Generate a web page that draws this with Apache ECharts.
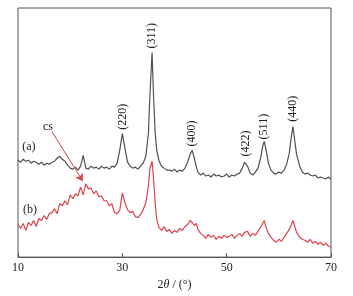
<!DOCTYPE html>
<html>
<head>
<meta charset="utf-8">
<script src="https://cdn.jsdelivr.net/npm/echarts@6/dist/echarts.min.js"></script>
<style>
  html, body { margin: 0; padding: 0; background: #fff; }
  #main { width: 353px; height: 296px; }
</style>
</head>
<body>
<div id="main"></div>
<script>
// 2theta angles (deg)
var angles = [
  10, 10.5, 11, 11.5, 12, 12.5, 13, 13.5, 14, 14.5,
  15, 15.5, 16, 16.5, 17, 17.5, 18, 18.5, 19, 19.5,
  20, 20.5, 21, 21.5, 22, 22.5, 23, 23.5, 24, 24.5,
  25, 25.5, 26, 26.5, 27, 27.5, 28, 28.5, 29, 29.5,
  30, 30.5, 31, 31.5, 32, 32.5, 33, 33.5, 34, 34.5,
  35, 35.3, 35.7, 36, 36.3, 36.6, 37, 37.5, 38, 38.5,
  39, 39.5, 40, 40.5, 41, 41.5, 42, 42.5, 43, 43.4,
  43.8, 44.2, 44.5, 45, 45.5, 46, 46.5, 47, 47.5, 48,
  48.5, 49, 49.5, 50, 50.5, 51, 51.5, 52, 52.5, 53,
  53.4, 53.7, 54, 54.5, 55, 55.5, 56, 56.5, 56.9, 57.2,
  57.5, 58, 58.5, 59, 59.5, 60, 60.5, 61, 61.5, 62,
  62.4, 62.7, 63, 63.4, 64, 64.5, 65, 65.5, 66, 66.5,
  67, 67.5, 68, 68.5, 69, 69.5, 70
];
// (a) intensity, offset curve
var curveA = [
  98, 96, 99, 97, 98, 95, 97, 96, 94, 96,
  93, 95, 94, 96, 97, 100, 102, 99, 97, 93,
  90, 89, 91, 88, 92, 103, 90, 89, 92, 90,
  91, 89, 92, 90, 91, 89, 92, 91, 95, 108,
  125, 110, 96, 92, 90, 91, 89, 92, 95, 102,
  125, 165, 207, 160, 125, 108, 98, 92, 90, 88,
  88, 87, 89, 86, 88, 87, 90, 96, 104, 108,
  100, 91, 86, 83, 85, 82, 83, 81, 84, 82,
  83, 81, 82, 84, 81, 83, 82, 84, 85, 90,
  96, 98, 92, 85, 83, 86, 90, 100, 112, 117,
  110, 95, 88, 85, 84, 86, 85, 88, 94, 105,
  122, 132, 120, 104, 92, 86, 84, 85, 83, 82,
  83, 80, 81, 80, 79, 81, 79
];
// (b) intensity
var curveB = [
  33, 29, 34, 27, 35, 32, 37, 31, 39, 37,
  42, 38, 44, 45, 49, 44, 54, 52, 57, 53,
  63, 59, 64, 62, 71, 63, 74, 69, 70, 64,
  67, 61, 62, 57, 57, 52, 54, 45, 44, 47,
  65, 55, 48, 45, 46, 41, 40, 43, 48, 55,
  72, 90, 97, 78, 55, 38, 30, 27, 31, 26,
  28, 24, 27, 25, 29, 27, 31, 33, 37, 35,
  32, 34, 28, 24, 22, 19, 23, 20, 22, 18,
  21, 19, 22, 20, 21, 23, 19, 22, 24, 21,
  25, 23, 26, 21, 24, 22, 26, 30, 34, 37,
  31, 24, 20, 17, 15, 18, 16, 20, 24, 28,
  33, 37, 32, 25, 20, 18, 17, 15, 18, 14,
  16, 13, 15, 12, 14, 11, 10
];
var xTicks = [10, 30, 50, 70];
// peak labels: name, angle, label centre height
var peakNames = ['(220)', '(311)', '(400)', '(422)', '(511)', '(440)'];
var peakAngles = [30.1, 35.7, 43.4, 53.7, 57.2, 62.7];
var peakLabelY = [142, 224, 125, 115, 132, 150];

var serif = 'Liberation Serif, Times New Roman, serif';

function pairs(ys) {
  var out = [];
  for (var i = 0; i < angles.length; i++) out.push([angles[i], ys[i]]);
  return out;
}

var peakMarks = [];
for (var i = 0; i < peakNames.length; i++) {
  peakMarks.push({
    coord: [peakAngles[i], peakLabelY[i]],
    label: { formatter: peakNames[i] }
  });
}

var myChart = echarts.init(document.getElementById('main'));
var option = {
  animation: false,
  grid: {
    left: 18, right: 22, top: 8, bottom: 36,
    show: true, borderColor: '#555', borderWidth: 1, backgroundColor: 'transparent'
  },
  xAxis: {
    type: 'value',
    min: 10, max: 70, interval: 20,
    name: '2{i|θ} / (°)',
    nameLocation: 'middle',
    nameGap: 20,
    nameTextStyle: {
      fontFamily: serif, fontSize: 12, color: '#222',
      rich: { i: { fontFamily: serif, fontSize: 12, fontStyle: 'italic', color: '#222' } }
    },
    axisLine: { lineStyle: { color: '#555', width: 1 } },
    axisTick: { inside: true, length: 4, lineStyle: { color: '#555' } },
    axisLabel: {
      fontFamily: serif, fontSize: 12, color: '#222', margin: 5,
      formatter: function (v) { return xTicks.indexOf(v) >= 0 ? String(v) : ''; }
    },
    splitLine: { show: false }
  },
  yAxis: {
    type: 'value', min: 0, max: 252,
    show: false,
    splitLine: { show: false }
  },
  series: [
    {
      name: '(a)',
      type: 'line',
      data: pairs(curveA),
      showSymbol: false,
      lineStyle: { color: '#505050', width: 1.2 },
      markPoint: {
        symbol: 'circle', symbolSize: 0,
        label: {
          show: true, position: 'inside', rotate: 90,
          fontFamily: serif, fontSize: 12, color: '#222'
        },
        data: peakMarks.concat([
          { coord: [12.1, 112], label: { formatter: '(a)', rotate: 0 } }
        ])
      }
    },
    {
      name: '(b)',
      type: 'line',
      data: pairs(curveB),
      showSymbol: false,
      lineStyle: { color: '#e0414b', width: 1.2 },
      markPoint: {
        symbol: 'circle', symbolSize: 0,
        label: {
          show: true, position: 'inside',
          fontFamily: serif, fontSize: 12, color: '#222'
        },
        data: [
          { coord: [12.3, 48], label: { formatter: '(b)' } },
          { coord: [15.75, 132], label: { formatter: 'cs' } }
        ]
      },
      markLine: {
        silent: true,
        symbol: ['none', 'arrow'],
        symbolSize: 7,
        label: { show: false },
        lineStyle: { color: '#d9404a', width: 1, type: 'solid' },
        data: [[{ coord: [16.5, 127] }, { coord: [22.4, 77] }]]
      }
    }
  ]
};
myChart.setOption(option);
</script>
</body>
</html>
